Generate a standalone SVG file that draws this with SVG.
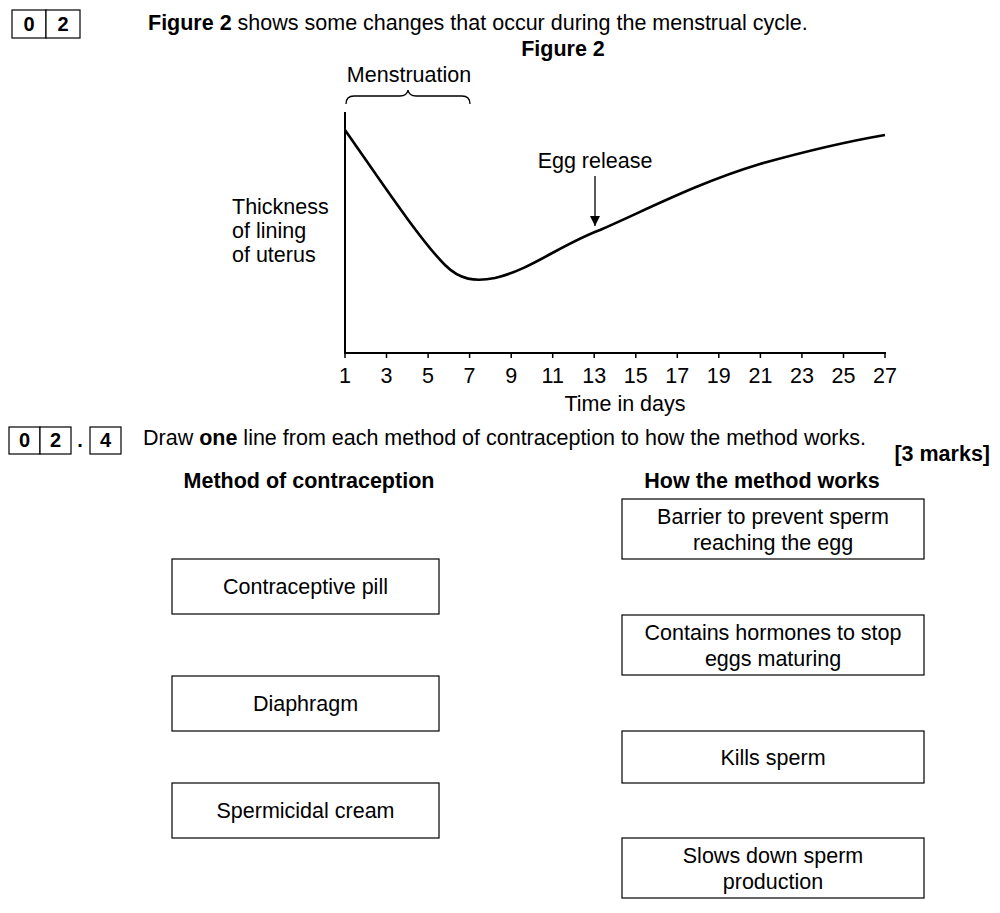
<svg xmlns="http://www.w3.org/2000/svg" width="1000" height="913" viewBox="0 0 1000 913">
<style>
text{font-family:"Liberation Sans",Arial,sans-serif;fill:#000}
.t{font-size:21.5px}
.g{font-size:20px}
.b{font-weight:bold}
.box{fill:#fff;stroke:#000;stroke-width:1.2}
.ax{fill:none;stroke:#000;stroke-width:2}
</style>
<defs><marker id="ah" markerWidth="12" markerHeight="12" refX="10" refY="5" orient="auto" markerUnits="userSpaceOnUse"><path d="M0,0 L10,5 L0,10 Z" fill="#000"/></marker></defs>
<rect width="1000" height="913" fill="#fff"/>
<g id="q02"><rect class="box" x="12" y="10" width="34" height="28"/><rect class="box" x="46" y="10" width="34" height="28"/>
<text class="g b" x="29" y="31" text-anchor="middle">0</text><text class="g b" x="63" y="31" text-anchor="middle">2</text></g>
<text class="t" x="148" y="30"><tspan class="b">Figure 2</tspan> shows some changes that occur during the menstrual cycle.</text>
<text class="t b" x="563" y="56" text-anchor="middle">Figure 2</text>
<g id="graph">
<text class="t" x="409" y="82" text-anchor="middle">Menstruation</text>
<path d="M346,104 Q346,96 354,96 L400,96 Q407,96 408,90 Q409,96 416,96 L462,96 Q470,96 470,104" fill="none" stroke="#000" stroke-width="1.3"/>
<path class="ax" d="M345,112 V353 H886"/>
<g stroke="#000" stroke-width="1.5">
<path d="M345,353v5M386.5,353v5M428.1,353v5M469.6,353v5M511.2,353v5M552.7,353v5M594.2,353v5M635.8,353v5M677.3,353v5M718.8,353v5M760.4,353v5M801.9,353v5M843.5,353v5M885,353v5"/></g>
<g class="t" text-anchor="middle">
<text x="345" y="383">1</text><text x="386.5" y="383">3</text><text x="428.1" y="383">5</text><text x="469.6" y="383">7</text><text x="511.2" y="383">9</text><text x="552.7" y="383">11</text><text x="594.2" y="383">13</text><text x="635.8" y="383">15</text><text x="677.3" y="383">17</text><text x="718.8" y="383">19</text><text x="760.4" y="383">21</text><text x="801.9" y="383">23</text><text x="843.5" y="383">25</text><text x="885" y="383">27</text></g>
<text class="t" x="625" y="411" text-anchor="middle">Time in days</text>
<text class="t" x="232" y="214">Thickness</text><text class="t" x="232" y="238">of lining</text><text class="t" x="232" y="262">of uterus</text>
<path d="M345,130 C380,180 420,240 445,265 C460,280 475,282 495,278 C530,270 560,245 600,230 C650,208 700,182 760,164 C810,150 850,141 885,135" fill="none" stroke="#000" stroke-width="2.6"/>
<text class="t" x="595" y="168" text-anchor="middle">Egg release</text>
<line x1="595" y1="176" x2="595" y2="226" stroke="#000" stroke-width="1.3" marker-end="url(#ah)"/>
</g>
<g id="q024"><rect class="box" x="9" y="427" width="31" height="27"/><rect class="box" x="40" y="427" width="31" height="27"/><rect class="box" x="90" y="427" width="31" height="27"/>
<text class="g b" x="24.5" y="447" text-anchor="middle">0</text><text class="g b" x="55.5" y="447" text-anchor="middle">2</text><text class="g b" x="80" y="447" text-anchor="middle">.</text><text class="g b" x="105.5" y="447" text-anchor="middle">4</text></g>
<text class="t" x="143" y="445">Draw <tspan class="b">one</tspan> line from each method of contraception to how the method works.</text>
<text class="t b" x="990" y="461" text-anchor="end">[3 marks]</text>
<text class="t b" x="309" y="488" text-anchor="middle">Method of contraception</text>
<text class="t b" x="762" y="488" text-anchor="middle">How the method works</text>
<g id="m1"><rect class="box" x="172" y="559" width="267" height="55"/><text class="t" x="305.5" y="594" text-anchor="middle">Contraceptive pill</text></g>
<g id="m2"><rect class="box" x="172" y="676" width="267" height="55"/><text class="t" x="305.5" y="711" text-anchor="middle">Diaphragm</text></g>
<g id="m3"><rect class="box" x="172" y="783" width="267" height="55"/><text class="t" x="305.5" y="818" text-anchor="middle">Spermicidal cream</text></g>
<g id="w1"><rect class="box" x="622" y="499" width="302" height="60"/><text class="t" x="773" y="524" text-anchor="middle">Barrier to prevent sperm</text><text class="t" x="773" y="550" text-anchor="middle">reaching the egg</text></g>
<g id="w2"><rect class="box" x="622" y="615" width="302" height="60"/><text class="t" x="773" y="640" text-anchor="middle">Contains hormones to stop</text><text class="t" x="773" y="666" text-anchor="middle">eggs maturing</text></g>
<g id="w3"><rect class="box" x="622" y="731" width="302" height="52"/><text class="t" x="773" y="765" text-anchor="middle">Kills sperm</text></g>
<g id="w4"><rect class="box" x="622" y="838" width="302" height="60"/><text class="t" x="773" y="863" text-anchor="middle">Slows down sperm</text><text class="t" x="773" y="889" text-anchor="middle">production</text></g>
<g id="connectors"></g>
</svg>
